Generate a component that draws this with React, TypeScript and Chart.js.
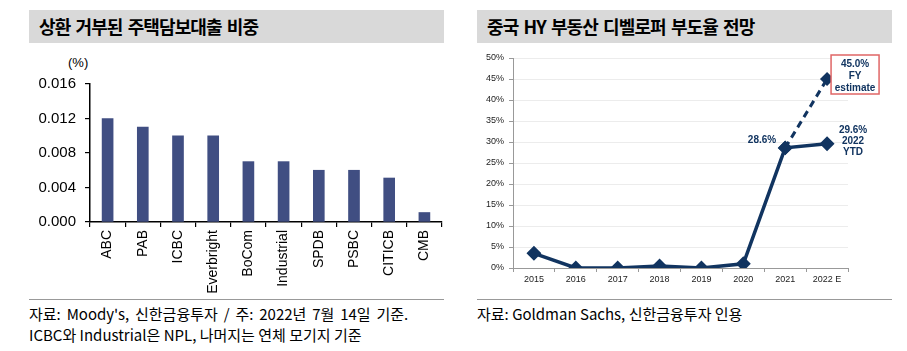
import React, { useEffect, useRef } from "react";
import { Chart, registerables } from "chart.js";

Chart.register(...registerables);

// ---- Left chart data ----
const banks = ["ABC", "PAB", "ICBC", "Everbright", "BoCom", "Industrial", "SPDB", "PSBC", "CITICB", "CMB"];
const refusedShare = [0.012, 0.011, 0.010, 0.010, 0.007, 0.007, 0.006, 0.006, 0.0051, 0.0011];
const leftTicks = [0, 0.004, 0.008, 0.012, 0.016];

// ---- Right chart data ----
const years = ["2015", "2016", "2017", "2018", "2019", "2020", "2021", "2022 E"];
const defaultRateYtd = [3.5, 0, 0, 0.5, 0, 1.0, 28.6, 29.6];
const defaultRateFy = [null, null, null, null, null, null, 28.6, 45.0];

const leftTitle = "상환 거부된 주택담보대출 비중";
const rightTitle = "중국 HY 부동산 디벨로퍼 부도율 전망";
const leftSource1 = "자료: Moody's, 신한금융투자 / 주: 2022년 7월 14일 기준.";
const leftSource2 = "ICBC와 Industrial은 NPL, 나머지는 연체 모기지 기준";
const rightSource = "자료: Goldman Sachs, 신한금융투자 인용";

const NAVY = "#113460";
const BAR = "#404e82";
const FONT = "'Liberation Sans', Arial, sans-serif";
const KFONT = "'Noto Sans CJK KR', 'Noto Sans', sans-serif";

const annotationPlugin = {
  id: "annot",
  afterDatasetsDraw(chart: any) {
    const ctx = chart.ctx;
    const m0 = chart.getDatasetMeta(0).data;
    const m1 = chart.getDatasetMeta(1).data;
    ctx.save();
    ctx.fillStyle = NAVY;
    ctx.font = `bold 10px ${FONT}`;
    ctx.textBaseline = "middle";
    // 2021 label
    const p21 = m0[6];
    ctx.textAlign = "right";
    ctx.fillText(`${defaultRateYtd[6].toFixed(1)}%`, p21.x - 9, p21.y - 8);
    // 2022 YTD label
    const p22 = m0[7];
    ctx.textAlign = "center";
    const ytd = [`${defaultRateYtd[7].toFixed(1)}%`, "2022", "YTD"];
    ytd.forEach((t, i) => ctx.fillText(t, p22.x + 26, p22.y - 13 + i * 11));
    // FY estimate box
    const pf = m1[7];
    const bx = pf.x + 4, by = pf.y - 24, bw = 48, bh = 39;
    ctx.fillStyle = "#fff";
    ctx.fillRect(bx, by, bw, bh);
    ctx.strokeStyle = "#e06666";
    ctx.lineWidth = 1.5;
    ctx.strokeRect(bx, by, bw, bh);
    ctx.fillStyle = NAVY;
    const fy = [`${(defaultRateFy[7] as number).toFixed(1)}%`, "FY", "estimate"];
    fy.forEach((t, i) => ctx.fillText(t, bx + bw / 2, by + 9 + i * 12));
    ctx.restore();
  },
};

export default function App() {
  const leftRef = useRef<HTMLCanvasElement>(null);
  const rightRef = useRef<HTMLCanvasElement>(null);

  useEffect(() => {
    const left = new Chart(leftRef.current!, {
      type: "bar",
      data: {
        labels: banks,
        datasets: [{ data: refusedShare, backgroundColor: BAR, barThickness: 11 }],
      },
      options: {
        animation: false,
        responsive: false,
        layout: { padding: { left: 0, top: 84, right: 18, bottom: 3 } },
        plugins: { legend: { display: false }, tooltip: { enabled: false } },
        scales: {
          x: {
            grid: { offset: true, drawOnChartArea: false, drawTicks: true, tickLength: 5, color: "#000", lineWidth: 1.2 },
            border: { display: true, color: "#000", width: 1.5 },
            ticks: { minRotation: 90, maxRotation: 90, autoSkip: false, padding: 3, color: "#000", font: { family: FONT, size: 14 } },
            afterFit: (s: any) => { s.height = 75; },
          },
          y: {
            min: 0,
            max: 0.016,
            afterBuildTicks: (s: any) => { s.ticks = leftTicks.map((v) => ({ value: v })); },
            ticks: { padding: 9, color: "#000", font: { family: FONT, size: 15 }, callback: (v: any) => Number(v).toFixed(3) },
            grid: { drawOnChartArea: false, drawTicks: true, tickLength: 5, color: "#000", lineWidth: 1.2 },
            border: { display: true, color: "#000", width: 1.5 },
            afterFit: (s: any) => { s.width = 90; },
          },
        },
      },
    });

    const right = new Chart(rightRef.current!, {
      type: "line",
      data: {
        labels: years,
        datasets: [
          {
            data: defaultRateYtd,
            borderColor: NAVY,
            backgroundColor: NAVY,
            borderWidth: 3.5,
            pointStyle: "rectRot",
            pointRadius: 5,
            pointBackgroundColor: NAVY,
            pointBorderColor: NAVY,
            tension: 0,
          },
          {
            data: defaultRateFy as any,
            borderColor: NAVY,
            backgroundColor: NAVY,
            borderWidth: 3,
            borderDash: [7, 5],
            pointStyle: "rectRot",
            pointRadius: 5,
            pointBackgroundColor: NAVY,
            pointBorderColor: NAVY,
            spanGaps: false,
          },
        ],
      },
      options: {
        animation: false,
        responsive: false,
        layout: { padding: { left: 0, top: 58, right: 59, bottom: 12 } },
        plugins: { legend: { display: false }, tooltip: { enabled: false } },
        scales: {
          x: {
            offset: true,
            grid: { offset: true, drawOnChartArea: false, drawTicks: true, tickLength: 4, color: "#999" },
            border: { display: true, color: "#999", width: 1 },
            ticks: { maxRotation: 0, autoSkip: false, padding: 2, color: "#222", font: { family: FONT, size: 9 } },
            afterFit: (s: any) => { s.height = 20; },
          },
          y: {
            min: 0,
            max: 50,
            ticks: { stepSize: 5, padding: 5, color: "#222", font: { family: FONT, size: 9 }, callback: (v: any) => `${v}%` },
            grid: { color: "#ececec", tickColor: "#999", drawTicks: true, tickLength: 4 },
            border: { display: true, color: "#999", width: 1 },
            afterFit: (s: any) => { s.width = 53; },
          },
        },
      },
      plugins: [annotationPlugin],
    });

    return () => {
      left.destroy();
      right.destroy();
    };
  }, []);

  const titleStyle: React.CSSProperties = {
    position: "absolute",
    top: 10,
    width: 415,
    height: 33,
    background: "#d9d9d9",
  };
  const titleText: React.CSSProperties = {
    position: "absolute",
    left: 10,
    top: 0,
    lineHeight: "33px",
    fontSize: 18,
    fontWeight: 700,
    letterSpacing: "-0.9px",
    wordSpacing: "2px",
    color: "#000",
    fontFamily: KFONT,
    whiteSpace: "nowrap",
  };
  const sourceStyle: React.CSSProperties = {
    position: "absolute",
    top: 303,
    fontSize: 15,
    lineHeight: "21px",
    color: "#000",
    fontFamily: KFONT,
    whiteSpace: "nowrap",
  };

  return (
    <div style={{ position: "absolute", left: 0, top: 0, width: 907, height: 351, background: "#fff", overflow: "hidden" }}>
      <div style={{ ...titleStyle, left: 29 }}>
        <span style={titleText}>{leftTitle}</span>
      </div>
      <div style={{ ...titleStyle, left: 477 }}>
        <span style={titleText}>{rightTitle}</span>
      </div>
      <div style={{ position: "absolute", left: 68, top: 55, fontSize: 13, fontFamily: FONT, color: "#000" }}>(%)</div>
      <canvas ref={leftRef} width={460} height={300} style={{ position: "absolute", left: 0, top: 0 }} />
      <canvas ref={rightRef} width={447} height={300} style={{ position: "absolute", left: 460, top: 0 }} />
      <div style={{ position: "absolute", left: 29, top: 299, width: 415, height: 1, background: "#999" }} />
      <div style={{ position: "absolute", left: 477, top: 299, width: 415, height: 1, background: "#999" }} />
      <div style={{ ...sourceStyle, left: 29 }}>
        <span style={{ wordSpacing: "2.5px" }}>{leftSource1}</span>
        <br />
        {leftSource2}
      </div>
      <div style={{ ...sourceStyle, left: 477 }}>{rightSource}</div>
    </div>
  );
}
